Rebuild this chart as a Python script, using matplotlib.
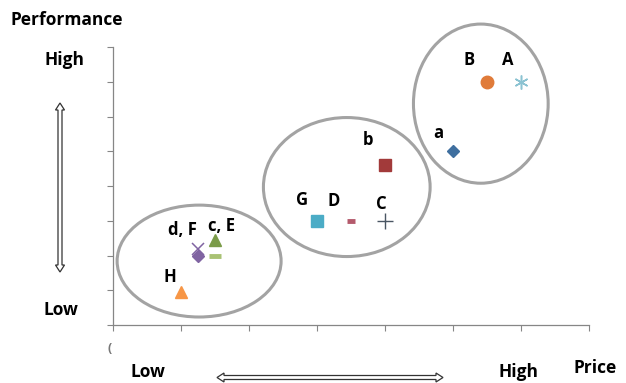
import matplotlib
matplotlib.use("Agg")
import matplotlib.pyplot as plt
from matplotlib.patches import Ellipse, Polygon

# products: price (x) vs performance (y)
names = ["A", "B", "a", "b", "C", "D", "G", "c", "E", "d", "F", "H"]
price = [6.0, 5.5, 5.0, 4.0, 4.0, 3.5, 3.0, 1.5, 1.5, 1.25, 1.25, 1.0]
perf = [7.0, 7.0, 5.0, 4.6, 3.0, 3.0, 3.0, 2.45, 2.0, 2.2, 2.0, 0.95]
labels = ["A", "B", "a", "b", "C", "D", "G", "c, E", "", "d, F", "", "H"]
markers = [(6, 2, 0), "o", "D", "s", "+", "_", "s", "^", "_", "x", "D", "^"]
colors = ["#8cc3d2", "#e07b39", "#3f6f9f", "#a23a3a", "#4a5663", "#b45a6c",
          "#4bacc6", "#7a9b48", "#a9c274", "#8064a2", "#8064a2", "#f79646"]
sizes = [10, 9, 6.5, 8.5, 12, 6, 8.5, 9, 9, 8, 6.5, 9]
label_off = [(-13, 22), (-18, 22), (-15, 18), (-17, 25), (-4, 17), (-17, 20),
             (-15, 21), (7, 14), (0, 0), (-15, 19), (0, 0), (-11, 15)]

# clusters: centre x, centre y, width, height (data units)
clusters = [(5.41, 6.37, 1.98, 4.58), (3.44, 3.97, 2.45, 4.0), (1.27, 1.84, 2.41, 3.22)]

W, H = 626, 383
fig = plt.figure(figsize=(W / 100, H / 100), dpi=100)
ax = fig.add_axes([112.7 / W, 1 - 325 / H, (589 - 112.7) / W, (325 - 47) / H])

font = "Open Sans"

for cx, cy, w, h in clusters:
    ax.add_patch(Ellipse((cx, cy), w, h, fill=False, edgecolor="#a3a3a3",
                         lw=2.2, clip_on=False, zorder=1))

for i in range(len(names)):
    m = markers[i]
    mew = 1.0
    if m == "_":
        mew = 3.5
    elif m in ("x", (6, 2, 0)):
        mew = 1.1
    ax.plot(price[i], perf[i], linestyle="none", marker=m, markersize=sizes[i],
            color=colors[i], markeredgewidth=mew, clip_on=False, zorder=3)
    if labels[i]:
        ax.annotate(labels[i], (price[i], perf[i]), xytext=label_off[i],
                    textcoords="offset pixels", ha="center", va="center",
                    fontsize=12, fontweight="bold", family=font)

ax.set_xlim(0, 7)
ax.set_ylim(0, 8)
ax.set_xticks(range(0, 8))
ax.set_yticks(range(0, 9))
ax.set_xticklabels([])
ax.set_yticklabels([])
ax.tick_params(direction="out", length=4, color="#868686", width=0.8)
for s in ["top", "right"]:
    ax.spines[s].set_visible(False)
for s in ["left", "bottom"]:
    ax.spines[s].set_color("#868686")
    ax.spines[s].set_linewidth(0.9)


def fig_text(px, py, s, size=12.5, ha="center", color="black"):
    fig.text(px / W, 1 - py / H, s, ha=ha, va="center", fontsize=size,
             fontweight="bold", family=font, color=color)


fig_text(10, 20, "Performance", ha="left")
fig_text(65, 60, "High")
fig_text(61, 310, "Low")
fig_text(148, 372, "Low")
fig_text(518, 372, "High")
fig_text(595, 368, "Price")
fig_text(110, 348, "(", size=9, color="#777777")


def double_arrow(x0, y0, x1, y1, shaft=4.0, head=9.0, hl=7.0):
    # hollow double-headed arrow, pixel coordinates
    import math
    L = math.hypot(x1 - x0, y1 - y0)
    ux, uy = (x1 - x0) / L, (y1 - y0) / L
    nx, ny = -uy, ux
    pts_local = [(0, 0), (hl, head / 2), (hl, shaft / 2), (L - hl, shaft / 2),
                 (L - hl, head / 2), (L, 0), (L - hl, -head / 2), (L - hl, -shaft / 2),
                 (hl, -shaft / 2), (hl, -head / 2)]
    pts = []
    for a, b in pts_local:
        px = x0 + a * ux + b * nx
        py = y0 + a * uy + b * ny
        pts.append((px / W, 1 - py / H))
    fig.patches.append(Polygon(pts, closed=True, facecolor="white",
                               edgecolor="#333333", lw=0.9,
                               transform=fig.transFigure))


double_arrow(60, 103, 60, 272)
double_arrow(217, 377.5, 443, 377.5)

fig.savefig("out.png", dpi=100)
